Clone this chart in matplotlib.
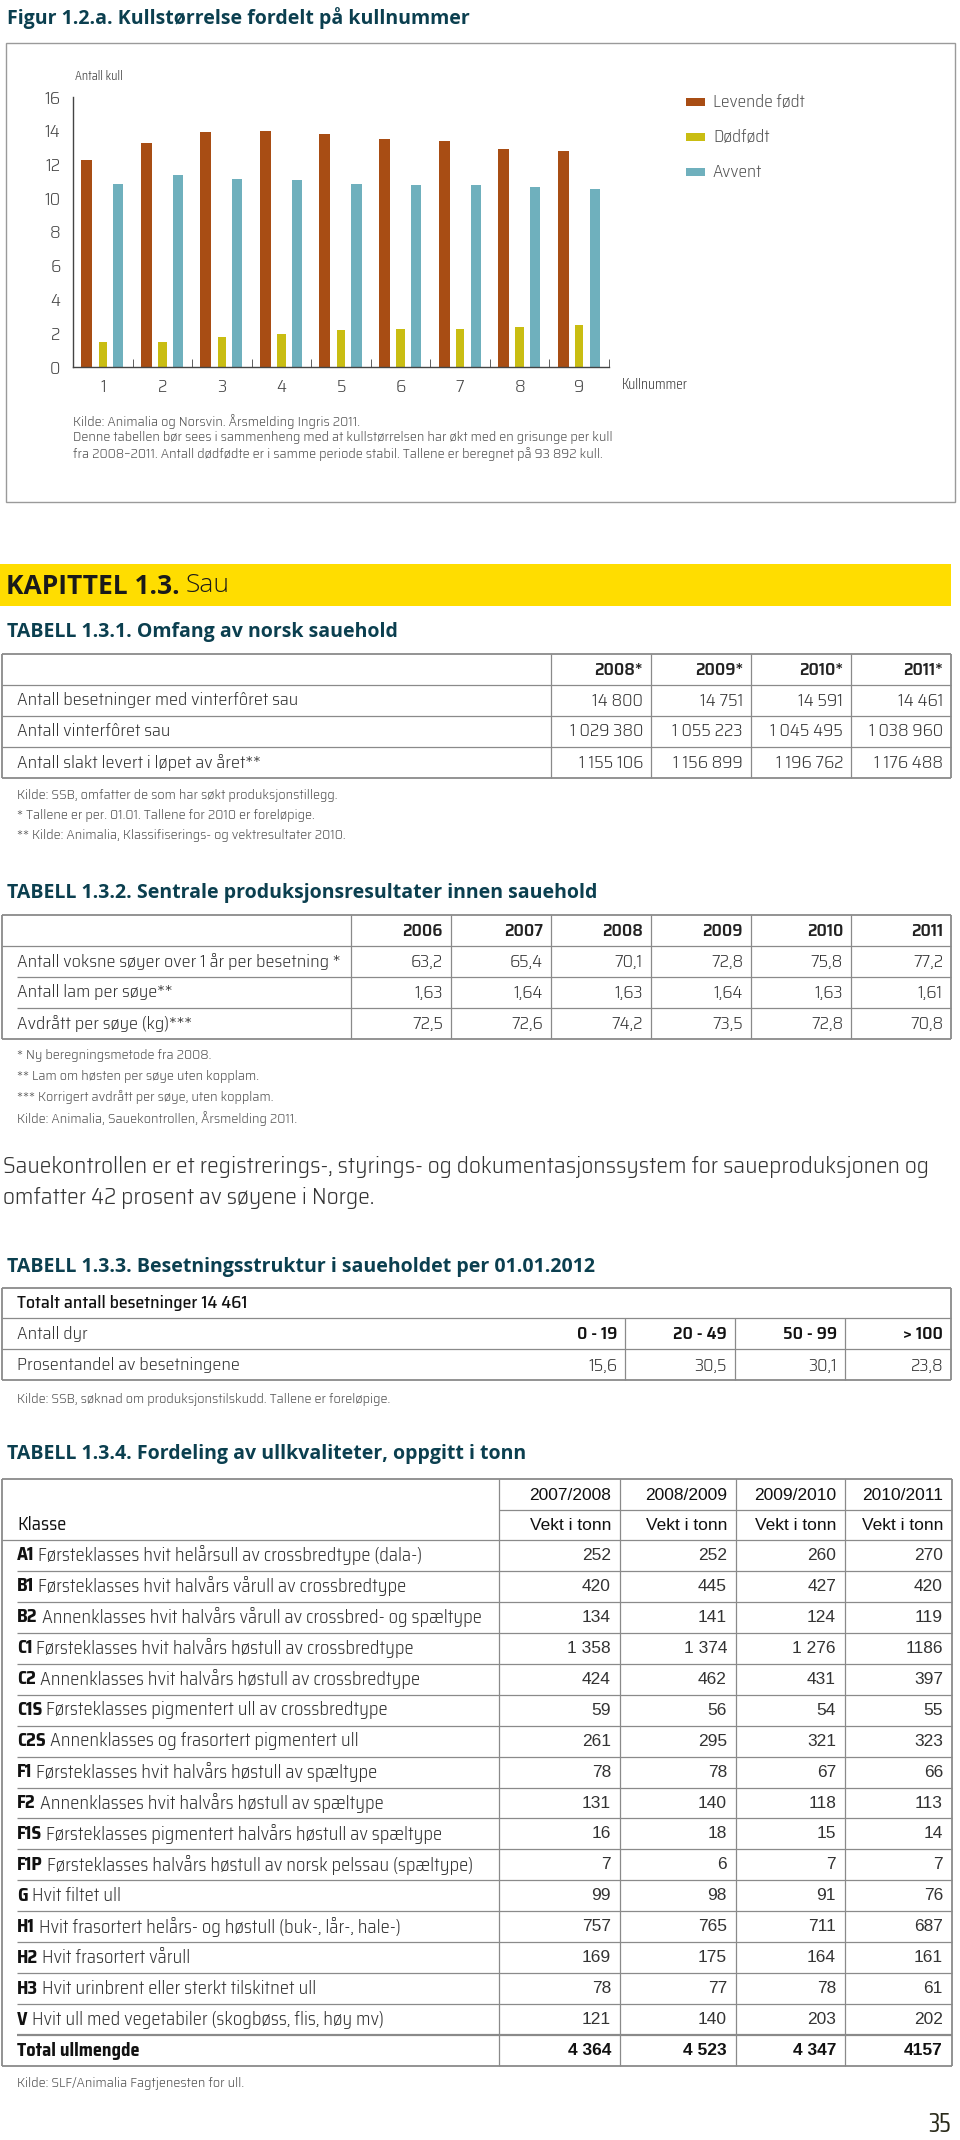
import matplotlib
matplotlib.use('Agg')
import matplotlib.pyplot as plt
from matplotlib.patches import Rectangle

body = ['Saira SemiCondensed', 'Saira Condensed', 'DejaVu Sans']
cond = ['Saira Condensed', 'DejaVu Sans']
titlefont = ['Open Sans', 'DejaVu Sans']
arial = ['Liberation Sans', 'DejaVu Sans']
plt.rcParams['font.family'] = body

# ---- data ----
kull = [1, 2, 3, 4, 5, 6, 7, 8, 9]
levende = [12.25, 13.3, 13.9, 14.0, 13.8, 13.5, 13.4, 12.9, 12.8]
dodfodt = [1.46, 1.46, 1.76, 1.98, 2.17, 2.27, 2.27, 2.37, 2.47]
avvent = [10.85, 11.35, 11.17, 11.07, 10.87, 10.77, 10.77, 10.67, 10.55]
serier = ['Levende født', 'Dødfødt', 'Avvent']

t131_kol = ['2008*', '2009*', '2010*', '2011*']
t131_rader = ['Antall besetninger med vinterfôret sau', 'Antall vinterfôret sau',
              'Antall slakt levert i løpet av året**']
t131_verdier = [['14 800', '14 751', '14 591', '14 461'],
                ['1 029 380', '1 055 223', '1 045 495', '1 038 960'],
                ['1 155 106', '1 156 899', '1 196 762', '1 176 488']]

t132_kol = ['2006', '2007', '2008', '2009', '2010', '2011']
t132_rader = ['Antall voksne søyer over 1 år per besetning *', 'Antall lam per søye**',
              'Avdrått per søye (kg)***']
t132_verdier = [['63,2', '65,4', '70,1', '72,8', '75,8', '77,2'],
                ['1,63', '1,64', '1,63', '1,64', '1,63', '1,61'],
                ['72,5', '72,6', '74,2', '73,5', '72,8', '70,8']]

t133_kol = ['0 - 19', '20 - 49', '50 - 99', '> 100']
t133_andel = ['15,6', '30,5', '30,1', '23,8']

t134_kol = ['2007/2008', '2008/2009', '2009/2010', '2010/2011']
t134_kode = ['A1', 'B1', 'B2', 'C1', 'C2', 'C1S', 'C2S', 'F1', 'F2', 'F1S', 'F1P',
             'G', 'H1', 'H2', 'H3', 'V']
t134_tekst = ['Førsteklasses hvit helårsull av crossbredtype (dala-)',
              'Førsteklasses hvit halvårs vårull av crossbredtype',
              'Annenklasses hvit halvårs vårull av crossbred- og spæltype',
              'Førsteklasses hvit halvårs høstull av crossbredtype',
              'Annenklasses hvit halvårs høstull av crossbredtype',
              'Førsteklasses pigmentert ull av crossbredtype',
              'Annenklasses og frasortert pigmentert ull',
              'Førsteklasses hvit halvårs høstull av spæltype',
              'Annenklasses hvit halvårs høstull av spæltype',
              'Førsteklasses pigmentert halvårs høstull av spæltype',
              'Førsteklasses halvårs høstull av norsk pelssau (spæltype)',
              'Hvit filtet ull',
              'Hvit frasortert helårs- og høstull (buk-, lår-, hale-)',
              'Hvit frasortert vårull',
              'Hvit urinbrent eller sterkt tilskitnet ull',
              'Hvit ull med vegetabiler (skogbøss, flis, høy mv)']
t134_verdier = [['252', '252', '260', '270'], ['420', '445', '427', '420'],
                ['134', '141', '124', '119'], ['1 358', '1 374', '1 276', '1186'],
                ['424', '462', '431', '397'], ['59', '56', '54', '55'],
                ['261', '295', '321', '323'], ['78', '78', '67', '66'],
                ['131', '140', '118', '113'], ['16', '18', '15', '14'],
                ['7', '6', '7', '7'], ['99', '98', '91', '76'],
                ['757', '765', '711', '687'], ['169', '175', '164', '161'],
                ['78', '77', '78', '61'], ['121', '140', '203', '202']]
t134_total = ['4 364', '4 523', '4 347', '4157']

# ---- colours ----
c_lev, c_dod, c_avv = '#a84d14', '#c9bd12', '#6fb0bd'
teal = '#0b3f4f'
grid = '#8a8a8a'
tekst = '#333333'
notefarge = '#555555'

fig = plt.figure(figsize=(9.6, 21.4), dpi=100)
pg = fig.add_axes([0, 0, 1, 1])
pg.set_xlim(0, 960)
pg.set_ylim(2140, 0)
pg.axis('off')
rend = fig.canvas.get_renderer()


def txt(x, y, s, size=12.9, ha='left', weight=300, color=tekst, **kw):
    return pg.text(x, y, s, fontsize=size, ha=ha, va='center', fontweight=weight,
                   color=color, **kw)


def tittel(y, s, size=14):
    txt(7, y, s, size=size, weight=700, color=teal, family=titlefont)


def hline(y, x0=2, x1=951, lw=0.9, color=grid):
    pg.plot([x0, x1], [y, y], color=color, lw=lw, solid_capstyle='butt')


def vline(x, y0, y1, lw=0.9):
    pg.plot([x, x], [y0, y1], color=grid, lw=lw, solid_capstyle='butt')


def two_part(x, y, bold, rest, size=13.2, bcol='#111111', rcol=tekst, gap=4, **kw):
    t = txt(x, y, bold, size=size, weight=700, color=bcol, **kw)
    bb = t.get_window_extent(rend)
    txt(bb.x1 + gap, y, rest, size=size, color=rcol, **kw)


# ---- Figur 1.2.a ----
tittel(18, 'Figur 1.2.a. Kullstørrelse fordelt på kullnummer')
pg.add_patch(Rectangle((6, 43), 949, 459, fill=False, ec='#9a9a9a', lw=1.0))

ax = fig.add_axes([73 / 960, 1 - 367 / 2140, 536 / 960, 270 / 2140])
ax.bar([k - 0.27 for k in kull], levende, width=0.185, color=c_lev, label=serier[0])
ax.bar(kull, dodfodt, width=0.14, color=c_dod, label=serier[1])
ax.bar([k + 0.26 for k in kull], avvent, width=0.17, color=c_avv, label=serier[2])
ax.set_xlim(0.5, 9.5)
ax.set_ylim(0, 16)
ax.set_yticks(range(0, 17, 2))
ax.set_xticks(kull)
ax.set_xticks([k + 0.5 for k in kull], minor=True)
ax.tick_params(axis='y', length=0, pad=9, labelsize=13, labelcolor='#444444')
ax.tick_params(axis='x', which='major', length=0, pad=9, labelsize=13,
               labelcolor='#444444')
ax.tick_params(axis='x', which='minor', direction='in', length=6, color='#444444')
for lab in ax.get_xticklabels() + ax.get_yticklabels():
    lab.set_fontweight(300)
for s in ['top', 'right']:
    ax.spines[s].set_visible(False)
for s in ['left', 'bottom']:
    ax.spines[s].set_color('#444444')
    ax.spines[s].set_linewidth(1.0)
ax.patch.set_alpha(0)

txt(75, 77, 'Antall kull', size=10, color='#444444', family=cond)
txt(622, 385, 'Kullnummer', size=11, color='#444444', family=cond)
for i, (navn, farge) in enumerate(zip(serier, [c_lev, c_dod, c_avv])):
    y = 102 + i * 35
    pg.add_patch(Rectangle((686, y - 4), 19, 8, color=farge, lw=0))
    txt(713, y, navn, size=12.5, color='#555555')

txt(73, 422, 'Kilde: Animalia og Norsvin. Årsmelding Ingris 2011.', size=10.2, color=notefarge)
txt(73, 438, 'Denne tabellen bør sees i sammenheng med at kullstørrelsen har økt med en grisunge per kull',
    size=10.2, color=notefarge)
txt(73, 454, 'fra 2008–2011. Antall dødfødte er i samme periode stabil. Tallene er beregnet på 93 892 kull.',
    size=10.2, color=notefarge)

# ---- Kapittel ----
pg.add_patch(Rectangle((0, 564), 951, 42, color='#ffdd00', lw=0))
two_part(6, 586, 'KAPITTEL 1.3.', 'Sau', size=19, bcol='#1a1a1a', rcol='#1a1a1a', gap=6,
         family=titlefont)

# ---- Tabell 1.3.1 ----
tittel(632, 'TABELL 1.3.1. Omfang av norsk sauehold')
ylines = [654, 685, 716, 747, 778]
for j, y in enumerate(ylines):
    hline(y, lw=1.3 if j in (0, len(ylines) - 1) else 0.9)
kolx = [551, 651, 751, 851, 951]
for x in kolx[:-1]:
    vline(x, 654, 778)
vline(2, 654, 778, lw=1.3)
vline(951, 654, 778, lw=1.3)
for k, lab in enumerate(t131_kol):
    txt(kolx[k + 1] - 8, 670, lab, ha='right', weight=600, color='#222222')
for r, lab in enumerate(t131_rader):
    y = (ylines[r + 1] + ylines[r + 2]) / 2
    txt(17, y, lab)
    for k, v in enumerate(t131_verdier[r]):
        txt(kolx[k + 1] - 8, y, v, ha='right')
txt(17, 795, 'Kilde: SSB, omfatter de som har søkt produksjonstillegg.', size=10.2, color=notefarge)
txt(17, 815, '* Tallene er per. 01.01. Tallene for 2010 er foreløpige.', size=10.2, color=notefarge)
txt(17, 835, '** Kilde: Animalia, Klassifiserings- og vektresultater 2010.', size=10.2, color=notefarge)

# ---- Tabell 1.3.2 ----
tittel(893, 'TABELL 1.3.2. Sentrale produksjonsresultater innen sauehold')
ylines = [915, 946, 977, 1008, 1039]
hline(915, lw=1.3)
hline(946)
hline(977, x0=17)
hline(1008, x0=17)
hline(1039, lw=1.3)
kolx = [351, 451, 551, 651, 751, 851, 951]
for x in kolx[:-1]:
    vline(x, 915, 1039)
vline(2, 915, 1039, lw=1.3)
vline(951, 915, 1039, lw=1.3)
for k, lab in enumerate(t132_kol):
    txt(kolx[k + 1] - 8, 931, lab, ha='right', weight=600, color='#222222')
for r, lab in enumerate(t132_rader):
    y = (ylines[r + 1] + ylines[r + 2]) / 2
    txt(17, y, lab)
    for k, v in enumerate(t132_verdier[r]):
        txt(kolx[k + 1] - 8, y, v, ha='right')
for i, s in enumerate(['* Ny beregningsmetode fra 2008.',
                       '** Lam om høsten per søye uten kopplam.',
                       '*** Korrigert avdrått per søye, uten kopplam.',
                       'Kilde: Animalia, Sauekontrollen, Årsmelding 2011.']):
    txt(17, 1056 + i * 20.7, s, size=10.2, color=notefarge)

txt(3, 1167, 'Sauekontrollen er et registrerings-, styrings- og dokumentasjonssystem for saueproduksjonen og',
    size=16.9, color='#333333')
txt(3, 1198, 'omfatter 42 prosent av søyene i Norge.', size=16.9, color='#333333')

# ---- Tabell 1.3.3 ----
tittel(1267, 'TABELL 1.3.3. Besetningsstruktur i saueholdet per 01.01.2012')
hline(1288, lw=1.3)
hline(1318)
hline(1349)
hline(1380, lw=1.3)
vline(2, 1288, 1380, lw=1.3)
vline(951, 1288, 1380, lw=1.3)
kolx = [625, 735, 845, 951]
for x in kolx[:-1]:
    vline(x, 1318, 1380)
txt(17, 1303, 'Totalt antall besetninger 14 461', weight=450, color='#111111')
txt(17, 1334, 'Antall dyr')
txt(17, 1365, 'Prosentandel av besetningene')
for k in range(4):
    txt(kolx[k] - 8, 1334, t133_kol[k], ha='right', weight=600, color='#111111')
    txt(kolx[k] - 8, 1365, t133_andel[k], ha='right')
txt(17, 1400, 'Kilde: SSB, søknad om produksjonstilskudd. Tallene er foreløpige.', size=10.2,
    color=notefarge)

# ---- Tabell 1.3.4 ----
tittel(1454, 'TABELL 1.3.4. Fordeling av ullkvaliteter, oppgitt i tonn')
kolx = [499, 620, 736, 845, 952]
top, h1, h2 = 1479, 1510, 1540
rad_h = (2066 - h2) / (len(t134_kode) + 1)
bunn = h2 + rad_h * (len(t134_kode) + 1)
hline(top, x1=952, lw=1.3)
hline(h1, x0=499, x1=952)
hline(h2, x1=952)
vline(2, top, bunn, lw=1.3)
vline(952, top, bunn, lw=1.3)
for x in kolx[:-1]:
    vline(x, top, bunn)
txt(17, 1525, 'Klasse', size=13.2, weight=400, color='#111111')
for k, lab in enumerate(t134_kol):
    txt(kolx[k + 1] - 9, 1495, lab, size=12.5, ha='right', weight=400, color='#111111',
        family=arial)
    txt(kolx[k + 1] - 9, 1526, 'Vekt i tonn', size=12.5, ha='right', weight=400,
        color='#111111', family=arial)
for r, kode in enumerate(t134_kode):
    y0 = h2 + r * rad_h
    if r > 0:
        hline(y0, x0=17, x1=952)
    yc = y0 + rad_h / 2
    two_part(17, yc, kode, t134_tekst[r])
    for k, v in enumerate(t134_verdier[r]):
        txt(kolx[k + 1] - 9, yc, v, size=12.5, ha='right', weight=400, family=arial)
y0 = h2 + len(t134_kode) * rad_h
hline(y0, x0=17, x1=952, lw=1.6)
txt(17, y0 + rad_h / 2, 'Total ullmengde', size=13.2, weight=700, color='#111111')
for k, v in enumerate(t134_total):
    txt(kolx[k + 1] - 9, y0 + rad_h / 2, v, size=12.5, ha='right', weight=700,
        color='#111111', family=arial)
hline(bunn, x1=952, lw=1.3)
txt(17, 2083, 'Kilde: SLF/Animalia Fagtjenesten for ull.', size=10.2, color=notefarge)

txt(951, 2125, '35', size=19, ha='right', weight=400, color='#2a2a1a', family=cond)

fig.savefig('out.png', dpi=100)
